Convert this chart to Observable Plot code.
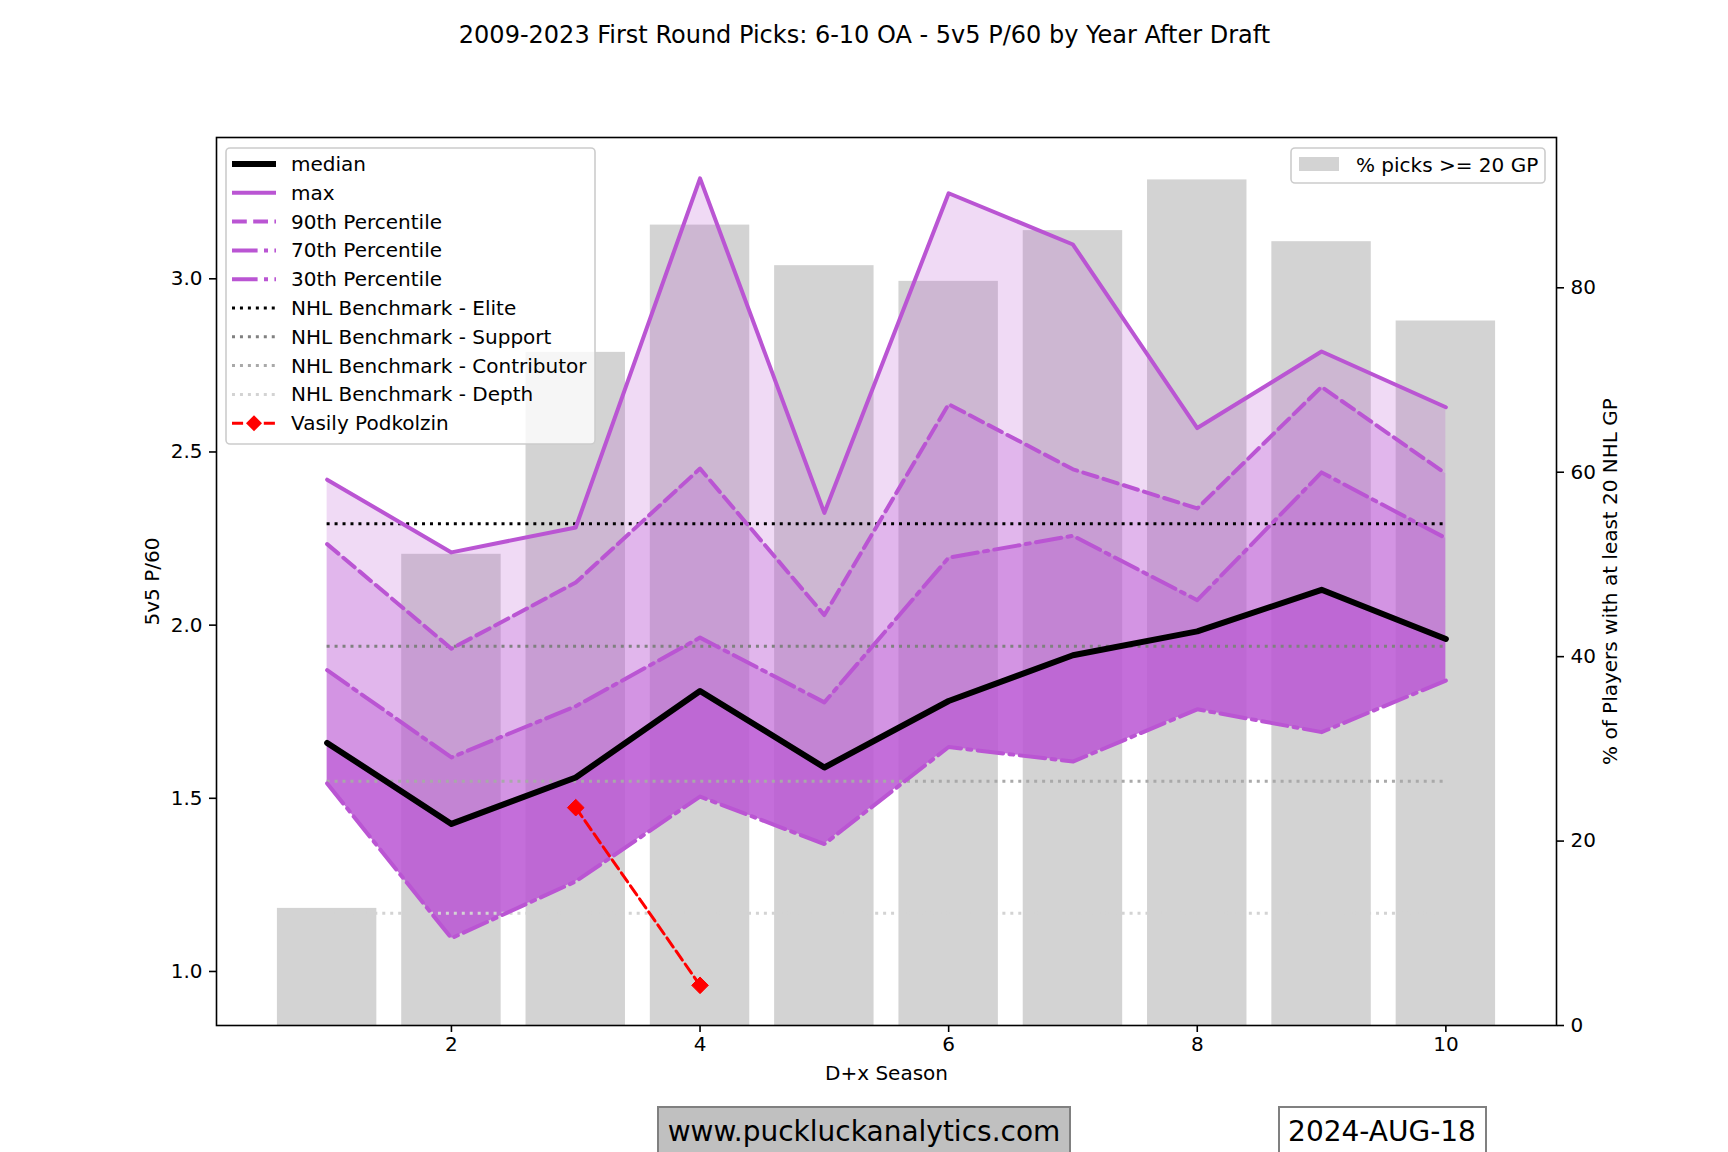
<!DOCTYPE html>
<html>
<head>
<meta charset="utf-8">
<script src="https://cdn.jsdelivr.net/npm/d3@7"></script>
<script src="https://cdn.jsdelivr.net/npm/@observablehq/plot@0.6"></script>
<style>
html, body { margin: 0; padding: 0; background: #ffffff; }
#wrap { position: relative; width: 1728px; height: 1152px; overflow: hidden; font-family: "DejaVu Sans", sans-serif; }
#wrap svg { position: absolute; left: 0; top: 0; }
</style>
</head>
<body>
<div id="wrap"></div>
<script>
// ---------- data ----------
const seasons = [1, 2, 3, 4, 5, 6, 7, 8, 9, 10];
const maxVals    = [2.420, 2.210, 2.282, 3.290, 2.324, 3.247, 3.099, 2.569, 2.790, 2.629];
const p90Vals    = [2.234, 1.932, 2.123, 2.452, 2.029, 2.638, 2.450, 2.337, 2.688, 2.437];
const p70Vals    = [1.870, 1.618, 1.766, 1.964, 1.777, 2.195, 2.258, 2.072, 2.441, 2.251];
const medianVals = [1.660, 1.426, 1.560, 1.810, 1.589, 1.781, 1.913, 1.982, 2.102, 1.960];
const p30Vals    = [1.543, 1.096, 1.260, 1.505, 1.368, 1.648, 1.606, 1.757, 1.691, 1.840];
const pctPicks   = [12.7, 51.1, 73.0, 86.8, 82.4, 80.7, 86.2, 91.7, 85.0, 76.4];

const benchNames  = ["NHL Benchmark - Elite", "NHL Benchmark - Support", "NHL Benchmark - Contributor", "NHL Benchmark - Depth"];
const benchValues = [2.293, 1.939, 1.549, 1.168];
const benchColors = ["#000000", "#808080", "#a9a9a9", "#d3d3d3"];

const playerName    = "Vasily Podkolzin";
const playerSeasons = [3, 4];
const playerVals    = [1.473, 0.960];

const titleText   = "2009-2023 First Round Picks: 6-10 OA - 5v5 P/60 by Year After Draft";
const xLabel      = "D+x Season";
const yLabel      = "5v5 P/60";
const y2Label     = "% of Players with at least 20 NHL GP";
const barLegend   = "% picks >= 20 GP";
const siteText    = "www.puckluckanalytics.com";
const dateText    = "2024-AUG-18";

const xTicks  = [2, 4, 6, 8, 10];
const yTicks  = [1.0, 1.5, 2.0, 2.5, 3.0];
const y2Ticks = [0, 20, 40, 60, 80];

// ---------- tables ----------
const rows = seasons.map((s, i) => ({
  season: s, max: maxVals[i], p90: p90Vals[i], p70: p70Vals[i], median: medianVals[i], p30: p30Vals[i]
}));
const barRows = seasons.map((s, i) => ({season: s, pct: pctPicks[i]}));
const playerRows = playerSeasons.map((s, i) => ({season: s, val: playerVals[i]}));
const benchRows = benchNames.map((n, i) => ({name: n, value: benchValues[i], color: benchColors[i]}));

// ---------- layout ----------
const W = 1728, H = 1152;
const mL = 216, mR = 172, mT = 137, mB = 127;
const xDomain = [0.11, 10.89];
const yDomain = [0.844, 3.408];
const y2Domain = [0, 96.3];
const ORCHID = "#ba55d3";
const DASH = "14.8,6.4";
const DASHDOT = "25.6,6.4,4,6.4";
const DOT = "3,4.95";
const baseStyle = {fontFamily: "DejaVu Sans, sans-serif", fontSize: "20px", background: "transparent", color: "black", overflow: "visible"};

const wrap = document.getElementById("wrap");

// ---------- bar layer (right axis) ----------
const barPlot = Plot.plot({
  width: W, height: H, marginLeft: mL, marginRight: mR, marginTop: mT, marginBottom: mB,
  style: baseStyle,
  x: {type: "linear", domain: xDomain, axis: null},
  y: {type: "linear", domain: y2Domain, axis: null},
  marks: [
    Plot.rectY(barRows, {x1: d => d.season - 0.4, x2: d => d.season + 0.4, y1: 0, y2: "pct", fill: "#d3d3d3"}),
    Plot.axisY({anchor: "right", ticks: y2Ticks, tickSize: 7, tickPadding: 7, strokeWidth: 1.6, label: null, fontSize: 20, tickFormat: d3.format("d")}),
    Plot.text([y2Label], {frameAnchor: "right", dx: 54, rotate: -90, textAnchor: "middle", lineAnchor: "middle", fontSize: 20, text: d => d})
  ]
});
wrap.appendChild(barPlot);

// ---------- line layer (left axis) ----------
const xFirst = d3.min(seasons), xLast = d3.max(seasons);
const benchMarks = benchRows.map(b =>
  Plot.ruleY([b], {y: "value", x1: () => xFirst, x2: () => xLast, stroke: b.color, strokeWidth: 3, strokeDasharray: DOT})
);

const linePlot = Plot.plot({
  width: W, height: H, marginLeft: mL, marginRight: mR, marginTop: mT, marginBottom: mB,
  style: baseStyle,
  x: {type: "linear", domain: xDomain},
  y: {type: "linear", domain: yDomain},
  marks: [
    Plot.areaY(rows, {x: "season", y1: "p90", y2: "max", fill: ORCHID, fillOpacity: 0.22}),
    Plot.areaY(rows, {x: "season", y1: "p70", y2: "p90", fill: ORCHID, fillOpacity: 0.43}),
    Plot.areaY(rows, {x: "season", y1: "median", y2: "p70", fill: ORCHID, fillOpacity: 0.63}),
    Plot.areaY(rows, {x: "season", y1: "p30", y2: "median", fill: ORCHID, fillOpacity: 0.85}),
    ...benchMarks,
    Plot.line(rows, {x: "season", y: "max", stroke: ORCHID, strokeWidth: 4, strokeLinejoin: "round"}),
    Plot.line(rows, {x: "season", y: "p90", stroke: ORCHID, strokeWidth: 4, strokeDasharray: DASH}),
    Plot.line(rows, {x: "season", y: "p70", stroke: ORCHID, strokeWidth: 4, strokeDasharray: DASHDOT}),
    Plot.line(rows, {x: "season", y: "p30", stroke: ORCHID, strokeWidth: 4, strokeDasharray: DASHDOT}),
    Plot.line(rows, {x: "season", y: "median", stroke: "black", strokeWidth: 6, strokeLinejoin: "round"}),
    Plot.line(playerRows, {x: "season", y: "val", stroke: "red", strokeWidth: 3, strokeDasharray: "11.1,4.8"}),
    Plot.dot(playerRows, {x: "season", y: "val", symbol: "diamond2", r: 7.5, fill: "red", stroke: "red", strokeWidth: 1}),
    Plot.frame({stroke: "black", strokeWidth: 1.6}),
    Plot.axisX({ticks: xTicks, tickSize: 7, tickPadding: 4, strokeWidth: 1.6, label: null, fontSize: 20, tickFormat: d3.format("d")}),
    Plot.axisY({anchor: "left", ticks: yTicks, tickSize: 7, tickPadding: 7, strokeWidth: 1.6, label: null, fontSize: 20, tickFormat: d3.format(".1f")}),
    Plot.text([xLabel], {frameAnchor: "bottom", dy: 48, lineAnchor: "middle", fontSize: 20, text: d => d}),
    Plot.text([yLabel], {frameAnchor: "left", dx: -64, rotate: -90, textAnchor: "middle", lineAnchor: "middle", fontSize: 20, text: d => d}),
    Plot.text([titleText], {frameAnchor: "top", dx: -22, dy: -102, lineAnchor: "middle", fontSize: 24, text: d => d})
  ]
});
wrap.appendChild(linePlot);

// ---------- legends & footer ----------
const svg = d3.select(linePlot);
const g = svg.append("g").attr("font-family", "DejaVu Sans, sans-serif").attr("font-size", 20).attr("text-anchor", "start");

// left legend
const legendItems = [
  {label: "median", stroke: "black", width: 6, dash: null},
  {label: "max", stroke: ORCHID, width: 4, dash: null},
  {label: "90th Percentile", stroke: ORCHID, width: 4, dash: DASH},
  {label: "70th Percentile", stroke: ORCHID, width: 4, dash: DASHDOT},
  {label: "30th Percentile", stroke: ORCHID, width: 4, dash: DASHDOT},
  ...benchRows.map(b => ({label: b.name, stroke: b.color, width: 3, dash: DOT})),
  {label: playerName, stroke: "red", width: 3, dash: "11.1,4.8", marker: true}
];
g.append("rect").attr("x", 226).attr("y", 148).attr("width", 369).attr("height", 296)
  .attr("rx", 4).attr("fill", "white").attr("fill-opacity", 0.8).attr("stroke", "#cccccc").attr("stroke-width", 1.6);
legendItems.forEach((it, i) => {
  const y = 164 + i * 28.8;
  g.append("line").attr("x1", 232).attr("x2", 276).attr("y1", y).attr("y2", y)
    .attr("stroke", it.stroke).attr("stroke-width", it.width)
    .attr("stroke-dasharray", it.dash);
  if (it.marker) {
    g.append("path").attr("d", `M254,${y - 8}L262,${y}L254,${y + 8}L246,${y}Z`).attr("fill", "red");
  }
  g.append("text").attr("x", 291).attr("y", y).attr("text-anchor", "start").attr("dominant-baseline", "central").attr("fill", "black").text(it.label);
});

// right legend
g.append("rect").attr("x", 1291).attr("y", 148).attr("width", 254).attr("height", 35)
  .attr("rx", 4).attr("fill", "white").attr("fill-opacity", 0.8).attr("stroke", "#cccccc").attr("stroke-width", 1.6);
g.append("rect").attr("x", 1299).attr("y", 157).attr("width", 40).attr("height", 14).attr("fill", "#d3d3d3");
g.append("text").attr("x", 1356).attr("y", 165).attr("text-anchor", "start").attr("dominant-baseline", "central").attr("fill", "black").text(barLegend);

// footer boxes
g.append("rect").attr("x", 658).attr("y", 1107).attr("width", 412).attr("height", 70)
  .attr("fill", "#c0c0c0").attr("stroke", "#808080").attr("stroke-width", 2);
g.append("text").attr("x", 864).attr("y", 1131).attr("text-anchor", "middle").attr("dominant-baseline", "central")
  .attr("font-size", 28).attr("fill", "black").text(siteText);
g.append("rect").attr("x", 1279).attr("y", 1107).attr("width", 207).attr("height", 70)
  .attr("fill", "white").attr("stroke", "#808080").attr("stroke-width", 2);
g.append("text").attr("x", 1382).attr("y", 1131).attr("text-anchor", "middle").attr("dominant-baseline", "central")
  .attr("font-size", 28).attr("fill", "black").text(dateText);
</script>
</body>
</html>
